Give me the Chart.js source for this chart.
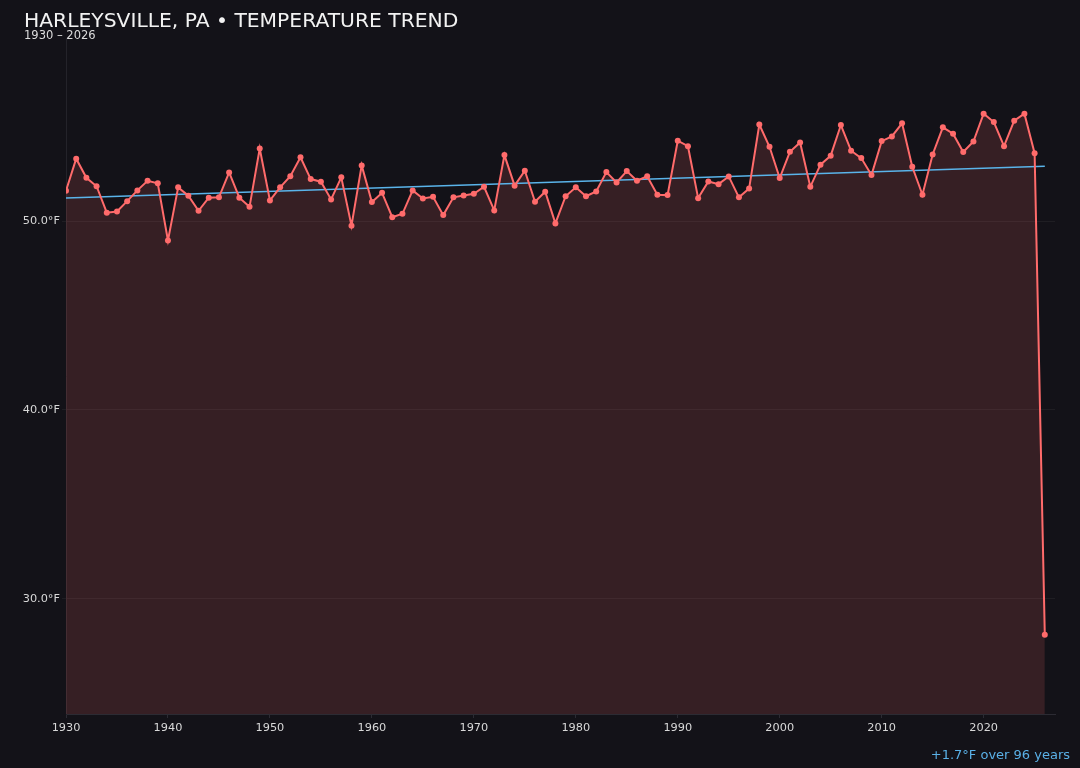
<!DOCTYPE html>
<html>
<head>
<meta charset="utf-8">
<script src="https://cdn.jsdelivr.net/npm/chart.js@4/dist/chart.umd.min.js"></script>
<style>
  html, body { margin:0; padding:0; background:#131218; width:1080px; height:768px; overflow:hidden; }
  #wrap { position:relative; width:1080px; height:768px; }
  canvas { position:absolute; left:0; top:0; }
  .title { position:absolute; left:24px; top:8px; font-family:"DejaVu Sans", sans-serif; font-size:20.3px; color:#f2f2f2; white-space:nowrap; }
  .sub { position:absolute; left:24px; top:28px; font-family:"DejaVu Sans", sans-serif; font-size:11.5px; color:#dcdcdc; white-space:nowrap; }
  .foot { position:absolute; right:10px; top:747px; font-family:"DejaVu Sans", sans-serif; font-size:13px; color:#5ab0e6; white-space:nowrap; }
</style>
</head>
<body>
<div id="wrap">
  <canvas id="c" width="1080" height="768"></canvas>
  <div class="title">HARLEYSVILLE, PA • TEMPERATURE TREND</div>
  <div class="sub">1930 – 2026</div>
  <div class="foot">+1.7°F over 96 years</div>
</div>
<script>
const years = [];
for (let y = 1930; y <= 2026; y++) years.push(y);

const temps = [
  51.61, 53.31, 52.30, 51.85, 50.45, 50.51, 51.06, 51.63, 52.14, 52.01,
  48.98, 51.79, 51.35, 50.55, 51.24, 51.26, 52.58, 51.24, 50.76, 53.85,
  51.10, 51.79, 52.38, 53.38, 52.23, 52.09, 51.15, 52.32, 49.76, 52.95,
  51.01, 51.50, 50.21, 50.39, 51.63, 51.20, 51.29, 50.32, 51.26, 51.36,
  51.45, 51.82, 50.57, 53.50, 51.88, 52.67, 51.03, 51.56, 49.88, 51.32,
  51.79, 51.32, 51.57, 52.60, 52.05, 52.65, 52.14, 52.38, 51.40, 51.38,
  54.26, 53.97, 51.22, 52.10, 51.96, 52.37, 51.26, 51.73, 55.12, 53.94,
  52.28, 53.67, 54.17, 51.82, 52.99, 53.47, 55.09, 53.73, 53.34, 52.44,
  54.24, 54.49, 55.18, 52.88, 51.40, 53.53, 54.97, 54.63, 53.66, 54.22,
  55.69, 55.25, 53.97, 55.32, 55.69, 53.60, 28.10
];

const trendYears = [1930, 2026];
const trendValues = [51.22, 52.91];

const xTicks = [1930, 1940, 1950, 1960, 1970, 1980, 1990, 2000, 2010, 2020];
const yTicks = [30, 40, 50];

const tempPoints = years.map((y, i) => ({ x: y, y: temps[i] }));
const trendPoints = trendYears.map((y, i) => ({ x: y, y: trendValues[i] }));

new Chart(document.getElementById('c'), {
  type: 'line',
  data: {
    datasets: [
      {
        data: tempPoints,
        borderColor: '#ff6b6b',
        backgroundColor: 'rgba(255,107,107,0.15)',
        pointBackgroundColor: '#ff6b6b',
        pointBorderColor: '#ff6b6b',
        pointRadius: 3,
        pointBorderWidth: 0,
        borderWidth: 2,
        fill: 'start',
        tension: 0,
        order: 1
      },
      {
        data: trendPoints,
        borderColor: '#5ab4ea',
        borderWidth: 1.5,
        pointRadius: 0,
        fill: false,
        order: 2
      }
    ]
  },
  options: {
    responsive: false,
    animation: false,
    events: [],
    layout: { padding: { left: 0, top: 38, right: 25, bottom: 24 } },
    plugins: {
      legend: { display: false },
      tooltip: { enabled: false },
      filler: { drawTime: 'beforeDatasetsDraw' }
    },
    scales: {
      x: {
        type: 'linear',
        min: 1930,
        max: 2027,
        afterBuildTicks: s => { s.ticks = xTicks.map(v => ({ value: v })); },
        afterFit: s => { s.height = 30; },
        ticks: {
          color: '#d8d8d8',
          font: { family: 'DejaVu Sans', size: 11.3 },
          maxRotation: 0,
          padding: 3,
          callback: v => String(v)
        },
        grid: { drawOnChartArea: false, color: '#2c2b33', tickLength: 4 },
        border: { color: '#2c2b33' }
      },
      y: {
        min: 23.9,
        max: 59.7,
        afterBuildTicks: s => { s.ticks = yTicks.map(v => ({ value: v })); },
        afterFit: s => { s.width = 66; },
        ticks: {
          color: '#d8d8d8',
          font: { family: 'DejaVu Sans', size: 11.3 },
          padding: 2,
          callback: v => v.toFixed(1) + '°F'
        },
        grid: { color: 'rgba(255,255,255,0.05)', tickLength: 4 },
        border: { color: '#24232a' }
      }
    }
  }
});
</script>
</body>
</html>
